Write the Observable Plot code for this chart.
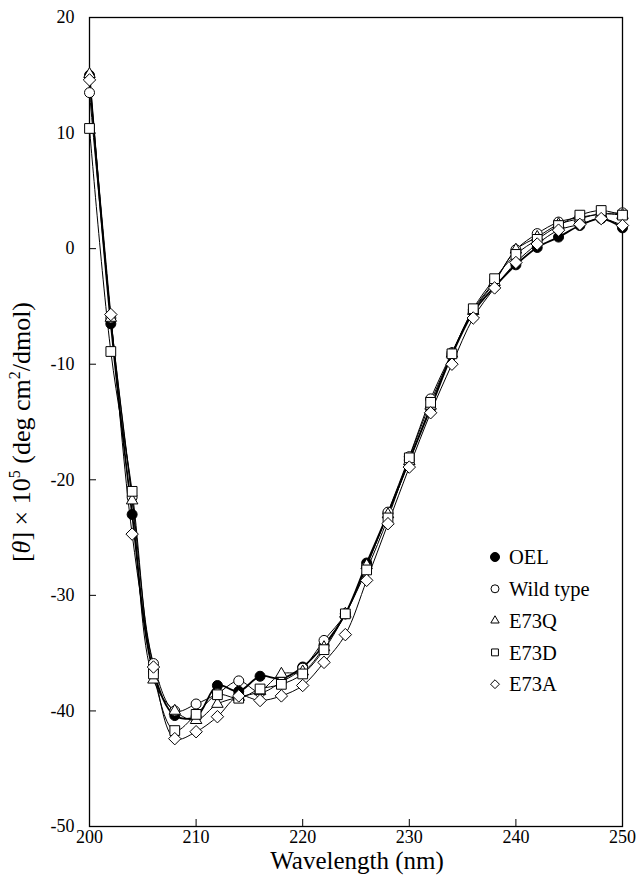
<!DOCTYPE html>
<html><head><meta charset="utf-8">
<script src="https://cdn.jsdelivr.net/npm/d3@7"></script>
<script src="https://cdn.jsdelivr.net/npm/@observablehq/plot@0.6"></script>
<style>
body{margin:0;background:#fff}
</style>
</head><body><div id="chart"></div>
<script>
const wavelengths = [200,202,204,206,208,210,212,214,216,218,220,222,224,226,228,230,232,234,236,238,240,242,244,246,248,250];
const seriesNames = ["OEL","Wild type","E73Q","E73D","E73A"];
const OEL      = [15.0,-6.5,-23.0,-36.6,-40.4,-40.5,-37.8,-38.3,-37.0,-37.2,-36.2,-34.3,-31.6,-27.2,-22.9,-18.3,-13.8,-9.2,-5.5,-3.3,-1.4,0.1,1.0,2.0,2.6,1.8];
const wildType = [13.5,-6.0,-21.5,-35.9,-40.0,-39.4,-38.5,-37.4,-38.4,-37.5,-36.3,-33.9,-31.6,-27.5,-22.8,-18.0,-13.0,-9.0,-5.3,-2.8,-0.1,1.3,2.3,2.7,3.0,3.1];
const E73Q     = [15.1,-6.0,-21.8,-37.3,-40.0,-40.8,-39.4,-38.8,-38.3,-36.8,-36.6,-34.5,-31.6,-27.4,-23.0,-18.4,-13.6,-9.1,-5.4,-2.9,-0.1,1.0,2.1,2.6,3.0,2.9];
const E73D     = [10.4,-8.9,-21.0,-36.8,-41.7,-40.3,-38.6,-38.9,-38.1,-37.7,-36.8,-34.7,-31.6,-27.8,-23.3,-18.1,-13.3,-9.1,-5.2,-2.6,-0.5,0.8,2.0,2.9,3.3,2.9];
const E73A     = [14.6,-5.7,-24.7,-36.2,-42.4,-41.8,-40.5,-38.7,-39.1,-38.7,-37.8,-35.8,-33.4,-28.7,-23.8,-18.9,-14.2,-10.0,-6.0,-3.4,-1.2,0.4,1.6,2.1,2.6,2.0];
const seriesValues = [OEL, wildType, E73Q, E73D, E73A];
const xTicks = [200,210,220,230,240,250];
const yTicks = [20,10,0,-10,-20,-30,-40,-50];

const symbols = ["circle","circle","triangle2","square2","diamond2"];
const fills = ["#000","#fff","#fff","#fff","#fff"];
const radii = [5,5,5.5,6.2,5.6];
const lineWidths = [1.8,1,1,1,1];
const FONT = "'Liberation Serif', 'Times New Roman', serif";

const series = seriesNames.map((name, i) =>
  wavelengths.map((w, j) => ({series: name, wavelength: w, value: seriesValues[i][j]})));

const marks = [
  Plot.frame({stroke: "#000", strokeWidth: 1.3}),
  Plot.axisX({ticks: xTicks, tickSize: -7, tickPadding: 11, tickFormat: d => String(d), label: null, fontSize: 18, fontFamily: FONT}),
  Plot.axisY({ticks: yTicks, tickSize: -7, tickPadding: 22, tickFormat: d => String(d), label: null, fontSize: 18, fontFamily: FONT})
];
series.forEach((data, i) => {
  marks.push(Plot.line(data, {x: "wavelength", y: "value", curve: "catmull-rom", stroke: "#000", strokeWidth: lineWidths[i]}));
});
series.forEach((data, i) => {
  marks.push(Plot.dot(data, {x: "wavelength", y: "value", symbol: () => symbols[i], r: radii[i], fill: fills[i], stroke: "#000", strokeWidth: 1}));
});

const chart = Plot.plot({
  width: 637, height: 877,
  marginLeft: 89, marginRight: 15, marginTop: 17, marginBottom: 51,
  x: {domain: [200, 250]},
  y: {domain: [-50, 20]},
  symbol: {type: "identity"},
  style: {fontFamily: FONT, fontSize: "18px", color: "#000", background: "#fff"},
  marks
});

const svg = d3.select(chart);
svg.style("font-family", FONT);
// x title
svg.append("text").attr("x", 357).attr("y", 869).attr("text-anchor", "middle")
  .attr("font-family", FONT).attr("font-size", 25).attr("fill", "#000").text("Wavelength (nm)");
// y title
const yt = svg.append("text").attr("transform", "translate(30,432) rotate(-90)")
  .attr("text-anchor", "middle").attr("font-family", FONT).attr("font-size", 26).attr("fill", "#000");
yt.append("tspan").text("[");
yt.append("tspan").attr("font-style", "italic").text("θ");
yt.append("tspan").text("] × 10");
yt.append("tspan").attr("font-size", 16).attr("dy", -10).text("5");
yt.append("tspan").attr("dy", 10).text(" (deg cm");
yt.append("tspan").attr("font-size", 16).attr("dy", -10).text("2");
yt.append("tspan").attr("dy", 10).text("/dmol)");

// legend
const legSyms = [d3.symbolCircle, d3.symbolCircle, d3.symbolTriangle2, d3.symbolSquare2, d3.symbolDiamond2];
const legSizes = [64, 50, 50, 60, 50];
const leg = svg.append("g");
seriesNames.forEach((name, i) => {
  const y = 557 + i * 31.8;
  leg.append("path").attr("d", d3.symbol(legSyms[i], legSizes[i])())
    .attr("transform", `translate(495,${y})`)
    .attr("fill", fills[i]).attr("stroke", "#000").attr("stroke-width", 1);
  leg.append("text").attr("x", 509).attr("y", y).attr("dy", "0.35em")
    .attr("text-anchor", "start").attr("font-family", FONT)
    .attr("font-size", 20.5).attr("fill", "#000").text(name);
});

document.getElementById("chart").appendChild(chart);
</script>
</body></html>
